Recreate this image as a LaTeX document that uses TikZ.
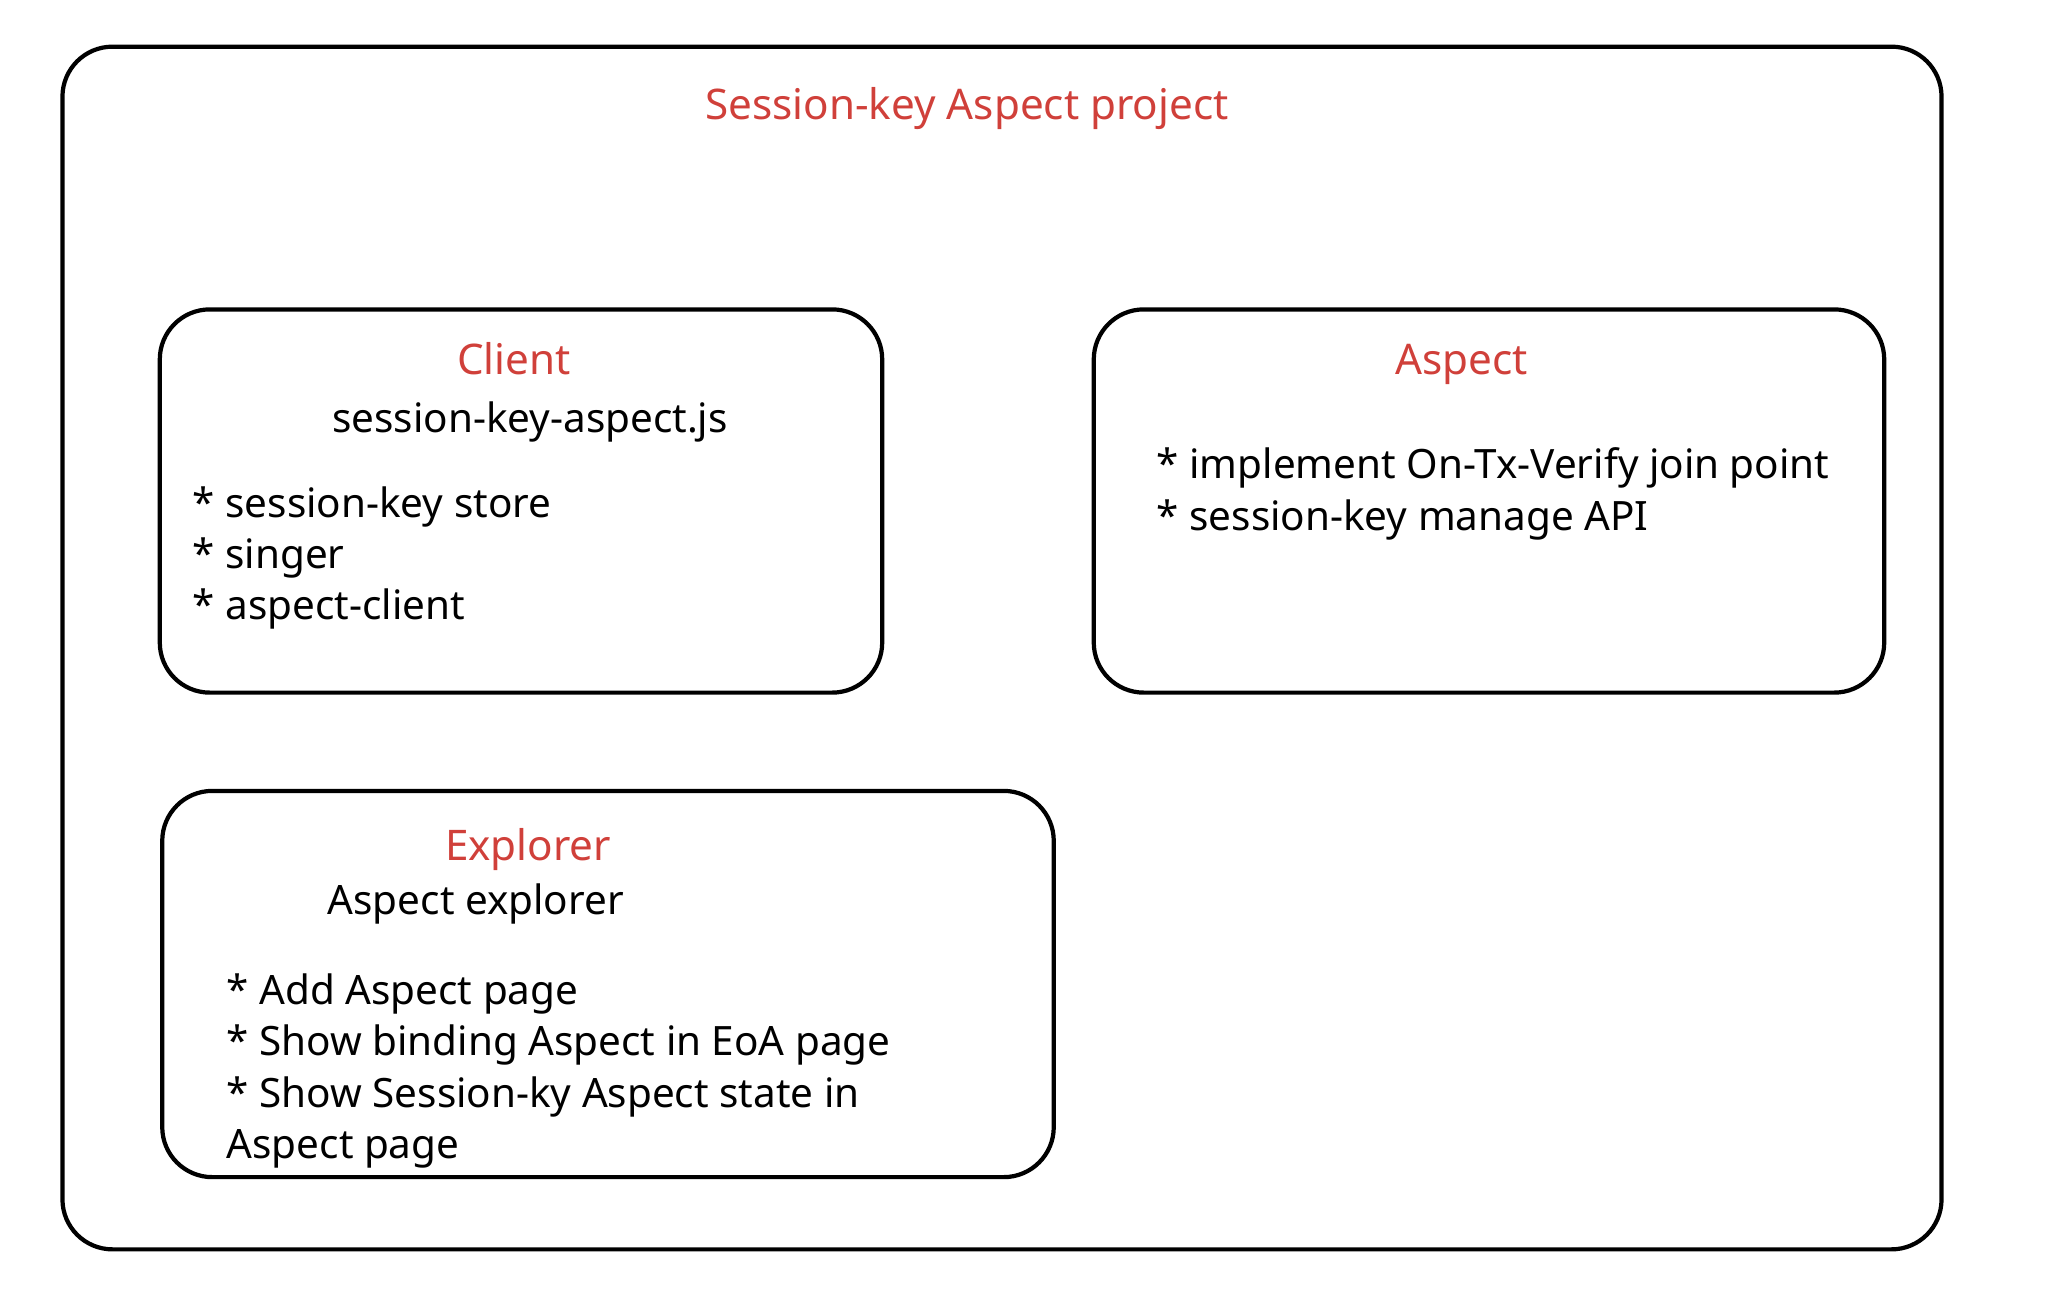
\documentclass[tikz,border=0pt]{standalone}
\usepackage{fontspec}
\setmainfont{Noto Sans}
\usepackage{tikz}
\usetikzlibrary{positioning}
\definecolor{titlered}{RGB}{208,64,58}

\begin{document}
\begin{tikzpicture}[
      x=0.01cm, y=-0.01cm,
      every node/.append style={font=\fontsize{11.5}{14.6}\selectfont},
      frame/.style={rectangle, rounded corners=0.5cm, draw, line width=1.2pt,
                    inner sep=0pt},
      head/.style={text=titlered, font=\fontsize{12}{14.6}\selectfont},
      items/.style={align=left, anchor=west, inner sep=0pt},
    ]
      \useasboundingbox (0,0) rectangle (2050,1308);
      % outer frame and sub projects
      \node[frame, minimum width=18.78cm, minimum height=12.02cm] (project) at (1002,648) {};
      \node[frame, minimum width=7.22cm, minimum height=3.83cm] (client) at (521,501) {};
      \node[frame, minimum width=7.90cm, minimum height=3.83cm] (aspect) at (1489,501) {};
      \node[frame, minimum width=8.91cm, minimum height=3.86cm] (explorer) at (608,984) {};

      \node[head] (projtitle) at (967,109) {Session-key Aspect project};

      % client
      \node[head] (clienttitle) at (514,359) {Client};
      \node (clientlib) at (530,422) {session-key-aspect.js};
      \node[items] (clientitems) at (192,558) {* session-key store\\ * singer\\ * aspect-client};

      % aspect
      \node[head] (aspecttitle) at (1462,364) {Aspect};
      \node[items] (aspectitems) at (1156,494) {* implement On-Tx-Verify join point\\ * session-key manage API};

      % explorer
      \node[head] (explorertitle) at (528,850) {Explorer};
      \node[items] (explorerapp) at (327,904) {Aspect explorer};
      \node[items] (exploreritems) at (226,1071) {* Add Aspect page\\ * Show binding Aspect in EoA page\\ * Show Session-ky Aspect state in\\ Aspect page};
    \end{tikzpicture}
\end{document}
